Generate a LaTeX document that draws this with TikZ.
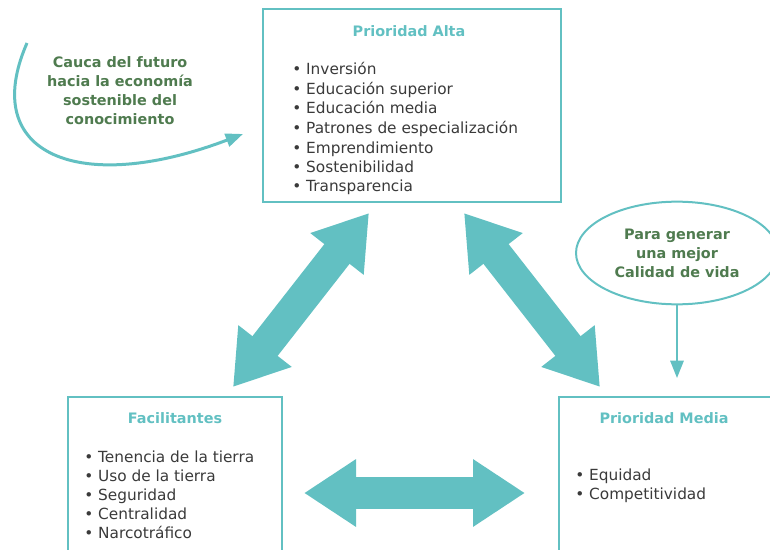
\documentclass[tikz,border=0pt]{standalone}
\usepackage{fontspec}
\setmainfont{DejaVu Sans}
\usetikzlibrary{shapes.geometric, positioning, arrows.meta, fit}

\definecolor{turquesa}{HTML}{62C0C2}
\definecolor{verde}{HTML}{4F7B4F}
\definecolor{gris}{HTML}{3A3A3A}

\tikzset{
  caja/.style={draw=turquesa, line width=1.5pt, inner sep=0pt},
  titulo/.style={text=turquesa, font=\fontsize{10.8}{13}\selectfont\bfseries, anchor=base, inner sep=0pt},
  item/.style={text=gris, font=\fontsize{11.5}{14}\selectfont, anchor=base west, inner sep=0pt},
  nota/.style={text=verde, font=\fontsize{10.8}{14.3}\selectfont\bfseries, align=center},
  flechagrande/.style={draw=turquesa, line width=24pt,
    {Triangle[length=39pt 0 0, width=48pt 0 0]}-{Triangle[length=39pt 0 0, width=48pt 0 0]}},
  flecha/.style={draw=turquesa, line width=2.25pt, -{Triangle[length=13pt 0 0, width=10pt 0 0]}}
}

\begin{document}
\begin{tikzpicture}[x=0.75pt, y=-0.75pt]
    \useasboundingbox (0,0) rectangle (770,549);
    \clip (0,0) rectangle (770,549);

    % Prioridad Alta
    \node[caja, fit={(263,9) (561,202)}] (alta) {};
    \node[titulo] (altaT) at (409,37) {Prioridad Alta};
    \node[item] (alta1) at (292,75) {• Inversión};
    \node[item] (alta2) at (292,94.5) {• Educación superior};
    \node[item] (alta3) at (292,114) {• Educación media};
    \node[item] (alta4) at (292,133.5) {• Patrones de especialización};
    \node[item] (alta5) at (292,153) {• Emprendimiento};
    \node[item] (alta6) at (292,172) {• Sostenibilidad};
    \node[item] (alta7) at (292,191.5) {• Transparencia};

    % Facilitantes
    \node[caja, fit={(68,397) (282,600)}] (facil) {};
    \node[titulo] (facilT) at (175,423) {Facilitantes};
    \node[item] (facil1) at (84,462) {• Tenencia de la tierra};
    \node[item] (facil2) at (84,481) {• Uso de la tierra};
    \node[item] (facil3) at (84,500) {• Seguridad};
    \node[item] (facil4) at (84,519) {• Centralidad};
    \node[item] (facil5) at (84,538) {• Narcotráfico};

    % Prioridad Media
    \node[caja, fit={(559,397) (800,600)}] (media) {};
    \node[titulo] (mediaT) at (664,423) {Prioridad Media};
    \node[item] (media1) at (575,480) {• Equidad};
    \node[item] (media2) at (575,499) {• Competitividad};

    % textos en verde
    \node[nota] (cauca) at (120,91) {Cauca del futuro\\hacia la economía\\sostenible del\\conocimiento};
    \node[nota, ellipse, draw=turquesa, line width=1.5pt, minimum width=151.5pt, minimum height=77pt]
        (calidad) at (677,253) {Para generar\\una mejor\\Calidad de vida};

    % flechas grandes
    \coordinate (izqA) at (369,213);
    \coordinate (izqB) at (233,387);
    \coordinate (derA) at (464,213);
    \coordinate (derB) at (600,387);
    \coordinate (horA) at (304,493);
    \coordinate (horB) at (525,493);
    \draw[flechagrande] (izqA) -- (izqB);
    \draw[flechagrande] (derA) -- (derB);
    \draw[flechagrande] (horA) -- (horB);

    % flechas finas
    \coordinate (curvaA) at (27,43);
    \coordinate (curvaB) at (243,134);
    \draw[flecha] (curvaA) .. controls (-22,155) and (80,196) .. (curvaB);
    \coordinate (calidadB) at (677,378);
    \draw[flecha, line width=1.5pt] (calidad.south) -- (calidadB);
\end{tikzpicture}
\end{document}
